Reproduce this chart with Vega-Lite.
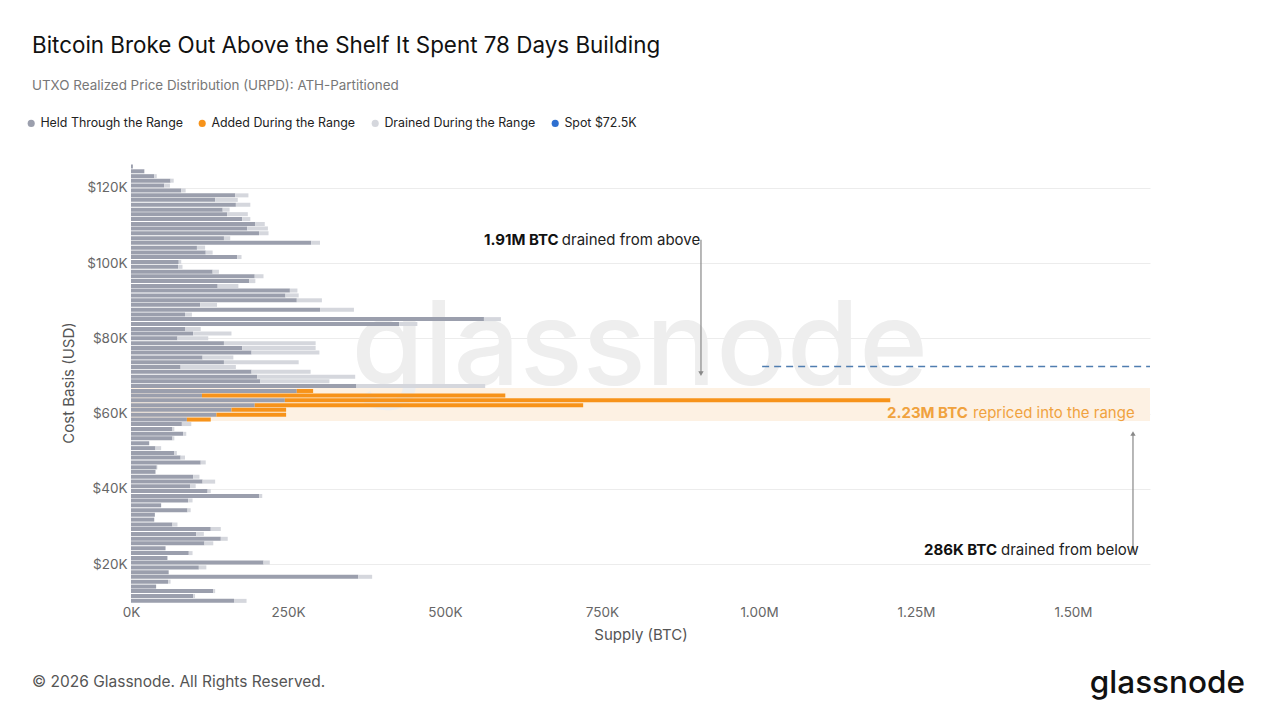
{
  "$schema": "https://vega.github.io/schema/vega-lite/v6.json",
  "description": "UTXO Realized Price Distribution (URPD): ATH-Partitioned",
  "autosize": {"type": "none"},
  "width": 1019,
  "height": 439,
  "padding": {"left": 131, "top": 163, "right": 130, "bottom": 118},
  "background": "#ffffff",
  "title": {
    "text": "Bitcoin Broke Out Above the Shelf It Spent 78 Days Building",
    "subtitle": "UTXO Realized Price Distribution (URPD): ATH-Partitioned",
    "anchor": "start",
    "frame": "group",
    "dx": -99,
    "offset": 25,
    "fontSize": 22.4,
    "fontWeight": 400,
    "color": "#111111",
    "subtitleFontSize": 13.4,
    "subtitleColor": "#777777",
    "subtitlePadding": 21
  },
  "datasets": {
    "urpd": [
      {"p": 125700, "held": 3000, "added": 0, "drained": 0},
      {"p": 124400, "held": 21000, "added": 0, "drained": 1000},
      {"p": 123100, "held": 37000, "added": 0, "drained": 4000},
      {"p": 121900, "held": 63000, "added": 0, "drained": 5000},
      {"p": 120600, "held": 53000, "added": 0, "drained": 9000},
      {"p": 119300, "held": 80000, "added": 0, "drained": 7000},
      {"p": 118000, "held": 166000, "added": 0, "drained": 21000},
      {"p": 116800, "held": 134000, "added": 0, "drained": 36000},
      {"p": 115500, "held": 167000, "added": 0, "drained": 23000},
      {"p": 114200, "held": 146000, "added": 0, "drained": 11000},
      {"p": 113000, "held": 153000, "added": 0, "drained": 33000},
      {"p": 111700, "held": 177000, "added": 0, "drained": 13000},
      {"p": 110400, "held": 198000, "added": 0, "drained": 15000},
      {"p": 109200, "held": 185000, "added": 0, "drained": 33000},
      {"p": 107900, "held": 204000, "added": 0, "drained": 15000},
      {"p": 106600, "held": 148000, "added": 0, "drained": 10000},
      {"p": 105400, "held": 287000, "added": 0, "drained": 14000},
      {"p": 104100, "held": 105000, "added": 0, "drained": 13000},
      {"p": 102800, "held": 119000, "added": 0, "drained": 11000},
      {"p": 101600, "held": 169000, "added": 0, "drained": 7000},
      {"p": 100300, "held": 76000, "added": 0, "drained": 4000},
      {"p": 99000, "held": 75000, "added": 0, "drained": 7000},
      {"p": 97700, "held": 130000, "added": 0, "drained": 10000},
      {"p": 96500, "held": 197000, "added": 0, "drained": 14000},
      {"p": 95200, "held": 188000, "added": 0, "drained": 10000},
      {"p": 93900, "held": 138000, "added": 0, "drained": 33000},
      {"p": 92700, "held": 253000, "added": 0, "drained": 12000},
      {"p": 91400, "held": 246000, "added": 0, "drained": 21000},
      {"p": 90100, "held": 264000, "added": 0, "drained": 40000},
      {"p": 88900, "held": 110000, "added": 0, "drained": 27000},
      {"p": 87600, "held": 301000, "added": 0, "drained": 54000},
      {"p": 86300, "held": 86000, "added": 0, "drained": 11000},
      {"p": 85100, "held": 562000, "added": 0, "drained": 27000},
      {"p": 83800, "held": 427000, "added": 0, "drained": 29000},
      {"p": 82500, "held": 86000, "added": 0, "drained": 25000},
      {"p": 81300, "held": 99000, "added": 0, "drained": 61000},
      {"p": 80000, "held": 74000, "added": 0, "drained": 49000},
      {"p": 78700, "held": 148000, "added": 0, "drained": 146000},
      {"p": 77400, "held": 177000, "added": 0, "drained": 117000},
      {"p": 76200, "held": 192000, "added": 0, "drained": 108000},
      {"p": 74900, "held": 114000, "added": 0, "drained": 49000},
      {"p": 73600, "held": 148000, "added": 0, "drained": 119000},
      {"p": 72400, "held": 79000, "added": 0, "drained": 88000},
      {"p": 71100, "held": 192000, "added": 0, "drained": 94000},
      {"p": 69800, "held": 201000, "added": 0, "drained": 156000},
      {"p": 68600, "held": 206000, "added": 0, "drained": 110000},
      {"p": 67300, "held": 359000, "added": 0, "drained": 205000},
      {"p": 66000, "held": 264000, "added": 26000, "drained": 0},
      {"p": 64800, "held": 113000, "added": 483000, "drained": 0},
      {"p": 63500, "held": 245000, "added": 964000, "drained": 0},
      {"p": 62200, "held": 197000, "added": 523000, "drained": 0},
      {"p": 61000, "held": 160000, "added": 87000, "drained": 0},
      {"p": 59700, "held": 136000, "added": 111000, "drained": 0},
      {"p": 58400, "held": 89000, "added": 38000, "drained": 0},
      {"p": 57200, "held": 81000, "added": 0, "drained": 15000},
      {"p": 55900, "held": 66000, "added": 0, "drained": 3000},
      {"p": 54600, "held": 83000, "added": 0, "drained": 5000},
      {"p": 53400, "held": 66000, "added": 0, "drained": 3000},
      {"p": 52100, "held": 29000, "added": 0, "drained": 0},
      {"p": 50800, "held": 39000, "added": 0, "drained": 9000},
      {"p": 49500, "held": 69000, "added": 0, "drained": 4000},
      {"p": 48300, "held": 79000, "added": 0, "drained": 7000},
      {"p": 47000, "held": 111000, "added": 0, "drained": 8000},
      {"p": 45700, "held": 41000, "added": 0, "drained": 1000},
      {"p": 44500, "held": 39000, "added": 0, "drained": 0},
      {"p": 43200, "held": 99000, "added": 0, "drained": 10000},
      {"p": 41900, "held": 114000, "added": 0, "drained": 20000},
      {"p": 40700, "held": 94000, "added": 0, "drained": 9000},
      {"p": 39400, "held": 122000, "added": 0, "drained": 5000},
      {"p": 38100, "held": 204000, "added": 0, "drained": 5000},
      {"p": 36900, "held": 91000, "added": 0, "drained": 7000},
      {"p": 35600, "held": 48000, "added": 0, "drained": 0},
      {"p": 34300, "held": 90000, "added": 0, "drained": 5000},
      {"p": 33100, "held": 38000, "added": 0, "drained": 0},
      {"p": 31800, "held": 37000, "added": 0, "drained": 0},
      {"p": 30500, "held": 66000, "added": 0, "drained": 8000},
      {"p": 29300, "held": 127000, "added": 0, "drained": 16000},
      {"p": 28000, "held": 104000, "added": 0, "drained": 12000},
      {"p": 26700, "held": 143000, "added": 0, "drained": 11000},
      {"p": 25500, "held": 117000, "added": 0, "drained": 14000},
      {"p": 24200, "held": 55000, "added": 0, "drained": 0},
      {"p": 22900, "held": 92000, "added": 0, "drained": 6000},
      {"p": 21600, "held": 58000, "added": 0, "drained": 0},
      {"p": 20400, "held": 211000, "added": 0, "drained": 10000},
      {"p": 19100, "held": 108000, "added": 0, "drained": 12000},
      {"p": 17800, "held": 60000, "added": 0, "drained": 0},
      {"p": 16600, "held": 362000, "added": 0, "drained": 22000},
      {"p": 15300, "held": 59000, "added": 0, "drained": 4000},
      {"p": 14000, "held": 40000, "added": 0, "drained": 0},
      {"p": 12800, "held": 131000, "added": 0, "drained": 3000},
      {"p": 11500, "held": 99000, "added": 0, "drained": 3000},
      {"p": 10200, "held": 164000, "added": 0, "drained": 20000}
    ]
  },
  "layer": [
    {
      "data": {"values": [{"lo": 58000, "hi": 66800, "x0": 0, "x1": 1622600}]},
      "mark": {"type": "rect", "color": "#fdf1e3"},
      "encoding": {
        "y": {
          "field": "lo",
          "type": "quantitative",
          "title": "Cost Basis (USD)",
          "scale": {"domain": [9900, 126600], "nice": false, "zero": false, "padding": 0},
          "axis": {
            "values": [20000, 40000, 60000, 80000, 100000, 120000],
            "labelExpr": "'$' + format(datum.value / 1000, 'd') + 'K'",
            "grid": true,
            "gridColor": "#ececec",
            "domain": false,
            "ticks": false,
            "labelFlush": false,
            "labelPadding": 4,
            "labelFontSize": 13.5,
            "labelColor": "#666666",
            "titleFontSize": 15,
            "titleFontWeight": 400,
            "titleColor": "#555555",
            "titlePadding": 10
          }
        },
        "y2": {"field": "hi"},
        "x": {
          "field": "x0",
          "type": "quantitative",
          "title": "Supply (BTC)",
          "scale": {"domain": [0, 1622600], "nice": false, "padding": 0},
          "axis": {
            "values": [0, 250000, 500000, 750000, 1000000, 1250000, 1500000],
            "labelExpr": "datum.value >= 1000000 ? format(datum.value / 1000000, '.2f') + 'M' : format(datum.value / 1000, 'd') + 'K'",
            "grid": false,
            "domain": false,
            "ticks": false,
            "labelFlush": false,
            "labelPadding": 3,
            "labelFontSize": 13.5,
            "labelColor": "#666666",
            "titleFontSize": 15,
            "titleFontWeight": 400,
            "titleColor": "#555555",
            "titlePadding": 9
          }
        },
        "x2": {"field": "x1"}
      }
    },
    {
      "data": {"values": [{"x": 810000, "y": 77000, "t": "glassnode"}]},
      "mark": {"type": "text", "fontSize": 117, "fontWeight": 500, "color": "#eeeeee", "align": "center", "baseline": "middle"},
      "encoding": {
        "x": {"field": "x", "type": "quantitative", "title": "Supply (BTC)"},
        "y": {"field": "y", "type": "quantitative", "title": "Cost Basis (USD)"},
        "text": {"field": "t"}
      }
    },
    {
      "data": {"name": "urpd"},
      "transform": [
        {"fold": ["held", "added", "drained"], "as": ["cat", "v"]},
        {"stack": "v", "groupby": ["p"], "sort": [{"field": "cat", "order": "descending"}], "as": ["x0", "x1"]}
      ],
      "mark": {"type": "bar", "orient": "horizontal", "size": 4},
      "encoding": {
        "y": {"field": "p", "type": "quantitative", "title": "Cost Basis (USD)"},
        "x": {"field": "x0", "type": "quantitative", "title": "Supply (BTC)"},
        "x2": {"field": "x1"},
        "color": {
          "field": "cat",
          "type": "nominal",
          "scale": {
            "domain": ["held", "added", "drained", "spot"],
            "range": ["#9b9fad", "#f7931a", "#d5d7dd", "#2e6fd0"]
          },
          "legend": {
            "title": null,
            "orient": "none",
            "legendX": -106,
            "legendY": -46,
            "direction": "horizontal",
            "symbolType": "circle",
            "symbolSize": 50,
            "symbolStrokeWidth": 0,
            "labelFontSize": 12.4,
            "labelColor": "#222222",
            "labelOffset": 3,
            "columnPadding": 13,
            "padding": 0,
            "labelExpr": "datum.label == 'held' ? 'Held Through the Range' : datum.label == 'added' ? 'Added During the Range' : datum.label == 'drained' ? 'Drained During the Range' : 'Spot $72.5K'"
          }
        }
      }
    },
    {
      "data": {"values": [{"x": 1005000, "x2": 1622600, "y": 72500}]},
      "mark": {"type": "rule", "color": "#4f7db0", "strokeDash": [7, 5], "strokeWidth": 1.3},
      "encoding": {
        "x": {"field": "x", "type": "quantitative", "title": "Supply (BTC)"},
        "x2": {"field": "x2"},
        "y": {"field": "y", "type": "quantitative", "title": "Cost Basis (USD)"}
      }
    },
    {
      "data": {"values": [{"x": 907600, "y": 106200, "y2": 71000}, {"x": 1595500, "y": 22900, "y2": 54300}]},
      "mark": {"type": "rule", "color": "#888888", "strokeWidth": 1.2},
      "encoding": {
        "x": {"field": "x", "type": "quantitative", "title": "Supply (BTC)"},
        "y": {"field": "y", "type": "quantitative", "title": "Cost Basis (USD)"},
        "y2": {"field": "y2"}
      }
    },
    {
      "data": {"values": [{"x": 907600, "y": 70600}]},
      "mark": {"type": "point", "shape": "triangle-down", "filled": true, "size": 28, "color": "#888888", "opacity": 1},
      "encoding": {
        "x": {"field": "x", "type": "quantitative", "title": "Supply (BTC)"},
        "y": {"field": "y", "type": "quantitative", "title": "Cost Basis (USD)"}
      }
    },
    {
      "data": {"values": [{"x": 1595500, "y": 54700}]},
      "mark": {"type": "point", "shape": "triangle-up", "filled": true, "size": 28, "color": "#888888", "opacity": 1},
      "encoding": {
        "x": {"field": "x", "type": "quantitative", "title": "Supply (BTC)"},
        "y": {"field": "y", "type": "quantitative", "title": "Cost Basis (USD)"}
      }
    },
    {
      "data": {"values": [{"x": 562000, "y": 106200, "t": "1.91M BTC"}, {"x": 1262700, "y": 23800, "t": "286K BTC"}]},
      "mark": {"type": "text", "fontSize": 15, "fontWeight": 700, "color": "#111111", "align": "left", "baseline": "middle"},
      "encoding": {
        "x": {"field": "x", "type": "quantitative", "title": "Supply (BTC)"},
        "y": {"field": "y", "type": "quantitative", "title": "Cost Basis (USD)"},
        "text": {"field": "t"}
      }
    },
    {
      "data": {"values": [{"x": 686000, "y": 106200, "t": "drained from above"}, {"x": 1385400, "y": 23800, "t": "drained from below"}]},
      "mark": {"type": "text", "fontSize": 15, "fontWeight": 400, "color": "#222222", "align": "left", "baseline": "middle"},
      "encoding": {
        "x": {"field": "x", "type": "quantitative", "title": "Supply (BTC)"},
        "y": {"field": "y", "type": "quantitative", "title": "Cost Basis (USD)"},
        "text": {"field": "t"}
      }
    },
    {
      "data": {"values": [{"x": 1203800, "y": 60200, "t": "2.23M BTC"}]},
      "mark": {"type": "text", "fontSize": 15, "fontWeight": 700, "color": "#f0a23e", "align": "left", "baseline": "middle"},
      "encoding": {
        "x": {"field": "x", "type": "quantitative", "title": "Supply (BTC)"},
        "y": {"field": "y", "type": "quantitative", "title": "Cost Basis (USD)"},
        "text": {"field": "t"}
      }
    },
    {
      "data": {"values": [{"x": 1340800, "y": 60200, "t": "repriced into the range"}]},
      "mark": {"type": "text", "fontSize": 15, "fontWeight": 400, "color": "#f0a23e", "align": "left", "baseline": "middle"},
      "encoding": {
        "x": {"field": "x", "type": "quantitative", "title": "Supply (BTC)"},
        "y": {"field": "y", "type": "quantitative", "title": "Cost Basis (USD)"},
        "text": {"field": "t"}
      }
    },
    {
      "data": {"values": [{"x": -157600, "y": -11400, "t": "© 2026 Glassnode. All Rights Reserved."}]},
      "mark": {"type": "text", "fontSize": 15.5, "fontWeight": 400, "color": "#555555", "align": "left", "baseline": "middle"},
      "encoding": {
        "x": {"field": "x", "type": "quantitative", "title": "Supply (BTC)"},
        "y": {"field": "y", "type": "quantitative", "title": "Cost Basis (USD)"},
        "text": {"field": "t"}
      }
    },
    {
      "data": {"values": [{"x": 1773900, "y": -11800, "t": "glassnode"}]},
      "mark": {"type": "text", "fontSize": 31.5, "fontWeight": 500, "color": "#111111", "align": "right", "baseline": "middle"},
      "encoding": {
        "x": {"field": "x", "type": "quantitative", "title": "Supply (BTC)"},
        "y": {"field": "y", "type": "quantitative", "title": "Cost Basis (USD)"},
        "text": {"field": "t"}
      }
    }
  ],
  "config": {
    "font": "Inter",
    "view": {"stroke": null}
  }
}
